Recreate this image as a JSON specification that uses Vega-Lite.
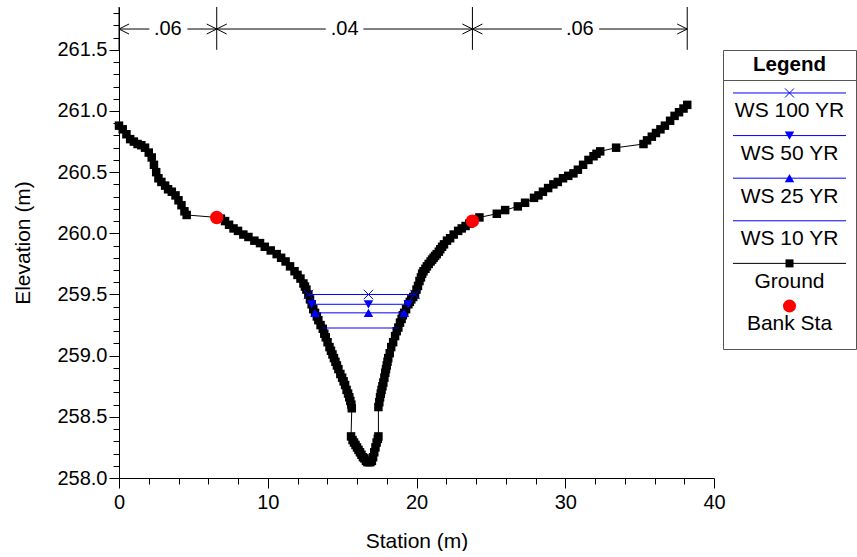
{
 "$schema": "https://vega.github.io/schema/vega-lite/v6.json",
 "padding": {"left": 12, "top": 6, "right": 0, "bottom": 0},
 "spacing": 9,
 "bounds": "flush",
 "config": {
  "font": "Liberation Sans",
  "view": {"stroke": null},
  "axis": {"grid": false, "domainColor": "#000", "tickColor": "#000", "labelColor": "#000", "titleColor": "#000", "labelFont": "Liberation Sans", "titleFont": "Liberation Sans", "labelFontSize": 20, "titleFontSize": 21, "titleFontWeight": "normal", "domainWidth": 1, "tickWidth": 1, "labelFlush": false},
  "text": {"font": "Liberation Sans", "color": "#000"}
 },
 "datasets": {
  "ground": [
   {"x":0,"e":260.88},{"x":0.25,"e":260.85},{"x":0.5,"e":260.81},{"x":0.75,"e":260.77},{"x":1.0,"e":260.75},{"x":1.25,"e":260.73},{"x":1.5,"e":260.72},{"x":1.75,"e":260.7},{"x":2.0,"e":260.66},{"x":2.2,"e":260.62},{"x":2.35,"e":260.56},{"x":2.5,"e":260.5},{"x":2.65,"e":260.45},{"x":2.85,"e":260.42},{"x":3.1,"e":260.39},{"x":3.3,"e":260.36},{"x":3.55,"e":260.34},{"x":3.8,"e":260.31},{"x":4.0,"e":260.27},{"x":4.2,"e":260.23},{"x":4.4,"e":260.18},{"x":4.55,"e":260.15},
   {"x":6.57,"e":260.13},{"x":6.85,"e":260.12},{"x":7.13,"e":260.1},{"x":7.4,"e":260.07},{"x":7.7,"e":260.04},{"x":8.0,"e":260.02},{"x":8.36,"e":259.99},{"x":8.7,"e":259.97},{"x":9.1,"e":259.94},{"x":9.48,"e":259.92},{"x":9.8,"e":259.89},{"x":10.2,"e":259.86},{"x":10.6,"e":259.83},{"x":10.9,"e":259.8},{"x":11.2,"e":259.77},{"x":11.5,"e":259.73},{"x":11.8,"e":259.69},{"x":12.0,"e":259.66},{"x":12.2,"e":259.63},{"x":12.4,"e":259.59},{"x":12.5,"e":259.565},{"x":12.6,"e":259.54},
   {"x":12.73,"e":259.5},{"x":12.84,"e":259.46},{"x":12.95,"e":259.42},{"x":13.06,"e":259.38},{"x":13.18,"e":259.35},{"x":13.3,"e":259.32},{"x":13.4,"e":259.29},{"x":13.55,"e":259.25},{"x":13.7,"e":259.22},{"x":13.8,"e":259.18},{"x":13.9,"e":259.15},{"x":14.02,"e":259.11},{"x":14.15,"e":259.07},{"x":14.25,"e":259.04},{"x":14.35,"e":259.01},{"x":14.45,"e":258.98},{"x":14.55,"e":258.95},{"x":14.65,"e":258.92},{"x":14.75,"e":258.89},{"x":14.88,"e":258.85},{"x":15.0,"e":258.82},{"x":15.1,"e":258.79},{"x":15.2,"e":258.76},{"x":15.3,"e":258.72},{"x":15.4,"e":258.69},{"x":15.48,"e":258.66},{"x":15.55,"e":258.63},{"x":15.62,"e":258.6},{"x":15.65,"e":258.57},
   {"x":15.6,"e":258.34},{"x":15.7,"e":258.31},{"x":15.8,"e":258.29},{"x":15.9,"e":258.27},{"x":16.0,"e":258.25},{"x":16.1,"e":258.23},{"x":16.2,"e":258.21},{"x":16.3,"e":258.19},{"x":16.4,"e":258.17},{"x":16.5,"e":258.16},{"x":16.6,"e":258.14},{"x":16.7,"e":258.13},{"x":16.8,"e":258.13},{"x":16.9,"e":258.13},{"x":17.0,"e":258.14},{"x":17.08,"e":258.17},{"x":17.16,"e":258.21},{"x":17.24,"e":258.25},{"x":17.32,"e":258.29},{"x":17.4,"e":258.32},{"x":17.44,"e":258.34},
   {"x":17.44,"e":258.58},{"x":17.5,"e":258.62},{"x":17.55,"e":258.66},{"x":17.6,"e":258.69},{"x":17.65,"e":258.72},{"x":17.71,"e":258.75},{"x":17.77,"e":258.78},{"x":17.84,"e":258.82},{"x":17.9,"e":258.86},{"x":17.95,"e":258.89},{"x":18.0,"e":258.92},{"x":18.05,"e":258.95},{"x":18.1,"e":258.98},{"x":18.2,"e":259.02},{"x":18.3,"e":259.07},{"x":18.43,"e":259.11},{"x":18.56,"e":259.16},{"x":18.67,"e":259.2},{"x":18.78,"e":259.23},{"x":18.89,"e":259.27},{"x":19.0,"e":259.3},{"x":19.08,"e":259.33},{"x":19.17,"e":259.35},{"x":19.3,"e":259.38},{"x":19.45,"e":259.42},{"x":19.55,"e":259.44},{"x":19.65,"e":259.46},{"x":19.78,"e":259.48},{"x":19.9,"e":259.5},{"x":20.0,"e":259.54},{"x":20.1,"e":259.57},{"x":20.2,"e":259.61},{"x":20.3,"e":259.64},{"x":20.38,"e":259.67},{"x":20.47,"e":259.69},{"x":20.6,"e":259.71},{"x":20.7,"e":259.73},{"x":20.82,"e":259.75},{"x":20.95,"e":259.77},{"x":21.05,"e":259.785},{"x":21.15,"e":259.8},{"x":21.25,"e":259.815},{"x":21.36,"e":259.83},{"x":21.5,"e":259.85},{"x":21.6,"e":259.87},{"x":21.72,"e":259.89},{"x":21.85,"e":259.91},{"x":22.05,"e":259.94},{"x":22.26,"e":259.96},{"x":22.5,"e":259.99},{"x":22.8,"e":260.02},{"x":23.04,"e":260.04},{"x":23.3,"e":260.06},{"x":23.55,"e":260.08},{"x":23.76,"e":260.1},
   {"x":24.23,"e":260.13},{"x":25.4,"e":260.16},{"x":25.96,"e":260.19},{"x":26.81,"e":260.22},{"x":27.3,"e":260.25},{"x":27.9,"e":260.29},{"x":28.2,"e":260.31},{"x":28.5,"e":260.34},{"x":28.85,"e":260.37},{"x":29.2,"e":260.4},{"x":29.5,"e":260.42},{"x":29.85,"e":260.45},{"x":30.2,"e":260.47},{"x":30.55,"e":260.49},{"x":30.85,"e":260.52},{"x":31.2,"e":260.56},{"x":31.56,"e":260.6},{"x":31.9,"e":260.63},{"x":32.1,"e":260.65},{"x":32.35,"e":260.67},{"x":33.42,"e":260.7},{"x":35.26,"e":260.73},{"x":35.5,"e":260.76},{"x":35.82,"e":260.79},{"x":36.1,"e":260.82},{"x":36.4,"e":260.85},{"x":36.7,"e":260.88},{"x":37.05,"e":260.92},{"x":37.35,"e":260.96},{"x":37.65,"e":260.99},{"x":37.95,"e":261.02},{"x":38.2,"e":261.05}
  ],
  "ws": [
   {"ws":"WS 100 YR","x":12.73,"e":259.5},{"ws":"WS 100 YR","x":16.77,"e":259.5},{"ws":"WS 100 YR","x":19.9,"e":259.5},
   {"ws":"WS 50 YR","x":12.95,"e":259.42},{"ws":"WS 50 YR","x":16.77,"e":259.42},{"ws":"WS 50 YR","x":19.45,"e":259.42},
   {"ws":"WS 25 YR","x":13.18,"e":259.35},{"ws":"WS 25 YR","x":16.77,"e":259.35},{"ws":"WS 25 YR","x":19.17,"e":259.35},
   {"ws":"WS 10 YR","x":13.7,"e":259.226},{"ws":"WS 10 YR","x":18.78,"e":259.226}
  ],
  "bank": [{"x":6.57,"e":260.13},{"x":23.76,"e":260.1}],
  "nb": [{"x":0},{"x":6.57},{"x":23.76},{"x":38.2}],
  "seg": [{"x1":0,"x2":2.04},{"x1":4.6,"x2":6.57},{"x1":6.57,"x2":13.9},{"x1":16.43,"x2":23.76},{"x1":23.76,"x2":29.77},{"x1":32.28,"x2":38.2}],
  "arrows": [{"x":0,"dir":"L"},{"x":6.57,"dir":"R"},{"x":6.57,"dir":"L"},{"x":23.76,"dir":"R"},{"x":23.76,"dir":"L"},{"x":38.2,"dir":"R"}],
  "ntext": [{"x":3.28,"n":".06"},{"x":15.17,"n":".04"},{"x":30.98,"n":".06"}],
  "legend": [{"label":"WS 100 YR"},{"label":"WS 50 YR"},{"label":"WS 25 YR"},{"label":"WS 10 YR"},{"label":"Ground"},{"label":"Bank Sta"}]
 },
 "hconcat": [
  {
   "width": 595,
   "height": 471,
   "layer": [
    {"data": {"name": "seg"}, "mark": {"type": "rule", "color": "#000", "strokeWidth": 1},
     "encoding": {"x": {"field": "x1", "type": "quantitative", "scale": {"domain": [0, 40], "nice": false}, "axis": null}, "x2": {"field": "x2"},
                  "y": {"datum": 261.67, "type": "quantitative", "scale": {"domain": [258, 261.85], "nice": false, "zero": false}, "axis": null}}},
    {"data": {"name": "nb"}, "mark": {"type": "rule", "color": "#000", "strokeWidth": 1},
     "encoding": {"x": {"field": "x", "type": "quantitative", "scale": {"domain": [0, 40], "nice": false}, "axis": null},
                  "y": {"datum": 261.5, "type": "quantitative", "scale": {"domain": [258, 261.85], "nice": false, "zero": false}, "axis": null}, "y2": {"datum": 261.85}}},
    {"data": {"name": "arrows"}, "transform": [{"filter": "datum.dir === 'L'"}], "mark": {"type": "point", "shape": "M2,-1L0,0L2,1", "filled": false, "stroke": "#000", "strokeWidth": 1, "size": 100, "opacity": 1},
     "encoding": {"x": {"field": "x", "type": "quantitative", "scale": {"domain": [0, 40], "nice": false}, "axis": null},
                  "y": {"datum": 261.67, "type": "quantitative", "scale": {"domain": [258, 261.85], "nice": false, "zero": false}, "axis": null}}},
    {"data": {"name": "arrows"}, "transform": [{"filter": "datum.dir === 'R'"}], "mark": {"type": "point", "shape": "M-2,-1L0,0L-2,1", "filled": false, "stroke": "#000", "strokeWidth": 1, "size": 100, "opacity": 1},
     "encoding": {"x": {"field": "x", "type": "quantitative", "scale": {"domain": [0, 40], "nice": false}, "axis": null},
                  "y": {"datum": 261.67, "type": "quantitative", "scale": {"domain": [258, 261.85], "nice": false, "zero": false}, "axis": null}}},
    {"data": {"name": "ntext"}, "mark": {"type": "text", "fontSize": 20, "baseline": "middle", "align": "center", "color": "#000"},
     "encoding": {"x": {"field": "x", "type": "quantitative", "scale": {"domain": [0, 40], "nice": false}, "axis": null},
                  "y": {"datum": 261.67, "type": "quantitative", "scale": {"domain": [258, 261.85], "nice": false, "zero": false}, "axis": null},
                  "text": {"field": "n"}}},
    {"data": {"name": "ground"}, "mark": {"type": "line", "color": "#000", "strokeWidth": 1},
     "encoding": {"x": {"field": "x", "type": "quantitative", "scale": {"domain": [0, 40], "nice": false},
                        "axis": {"values": [0, 10, 20, 30, 40], "tickSize": 10, "labelPadding": 4, "title": "Station (m)", "titlePadding": 18, "orient": "bottom"}},
                  "y": {"field": "e", "type": "quantitative", "scale": {"domain": [258, 261.85], "nice": false, "zero": false},
                        "axis": {"values": [258, 258.5, 259, 259.5, 260, 260.5, 261, 261.5], "format": ".1f", "tickSize": 10, "labelPadding": 2, "title": "Elevation (m)", "titlePadding": 23, "orient": "left"}},
                  "order": {"value": null}}},
    {"data": {"name": "ground"}, "mark": {"type": "square", "color": "#000", "size": 72, "opacity": 1},
     "encoding": {"x": {"field": "x", "type": "quantitative", "scale": {"domain": [0, 40], "nice": false},
                        "axis": {"values": [2, 4, 6, 8, 12, 14, 16, 18, 22, 24, 26, 28, 32, 34, 36, 38], "tickSize": 6, "labels": false, "domain": false, "title": null, "orient": "bottom"}},
                  "y": {"field": "e", "type": "quantitative", "scale": {"domain": [258, 261.85], "nice": false, "zero": false},
                        "axis": {"values": [258.1, 258.2, 258.3, 258.4, 258.6, 258.7, 258.8, 258.9, 259.1, 259.2, 259.3, 259.4, 259.6, 259.7, 259.8, 259.9, 260.1, 260.2, 260.3, 260.4, 260.6, 260.7, 260.8, 260.9, 261.1, 261.2, 261.3, 261.4, 261.6, 261.7, 261.8], "tickSize": 6, "labels": false, "domain": false, "title": null, "orient": "left"}}}},
    {"data": {"name": "ws"}, "mark": {"type": "line", "color": "#0000ff", "strokeWidth": 1},
     "encoding": {"x": {"field": "x", "type": "quantitative", "scale": {"domain": [0, 40], "nice": false}, "axis": null},
                  "y": {"field": "e", "type": "quantitative", "scale": {"domain": [258, 261.85], "nice": false, "zero": false}, "axis": null},
                  "detail": {"field": "ws"}}},
    {"data": {"name": "ws"}, "transform": [{"filter": "datum.ws === 'WS 100 YR'"}], "mark": {"type": "point", "shape": "M-1,-1L1,1M-1,1L1,-1", "filled": false, "stroke": "#0000ff", "strokeWidth": 1, "size": 90, "opacity": 1},
     "encoding": {"x": {"field": "x", "type": "quantitative", "scale": {"domain": [0, 40], "nice": false}, "axis": null},
                  "y": {"field": "e", "type": "quantitative", "scale": {"domain": [258, 261.85], "nice": false, "zero": false}, "axis": null}}},
    {"data": {"name": "ws"}, "transform": [{"filter": "datum.ws === 'WS 50 YR'"}], "mark": {"type": "point", "shape": "triangle-down", "filled": true, "color": "#0000ff", "size": 90, "opacity": 1},
     "encoding": {"x": {"field": "x", "type": "quantitative", "scale": {"domain": [0, 40], "nice": false}, "axis": null},
                  "y": {"field": "e", "type": "quantitative", "scale": {"domain": [258, 261.85], "nice": false, "zero": false}, "axis": null}}},
    {"data": {"name": "ws"}, "transform": [{"filter": "datum.ws === 'WS 25 YR'"}], "mark": {"type": "point", "shape": "triangle-up", "filled": true, "color": "#0000ff", "size": 90, "opacity": 1},
     "encoding": {"x": {"field": "x", "type": "quantitative", "scale": {"domain": [0, 40], "nice": false}, "axis": null},
                  "y": {"field": "e", "type": "quantitative", "scale": {"domain": [258, 261.85], "nice": false, "zero": false}, "axis": null}}},
    {"data": {"name": "bank"}, "mark": {"type": "circle", "color": "#ff0000", "size": 180, "opacity": 1},
     "encoding": {"x": {"field": "x", "type": "quantitative", "scale": {"domain": [0, 40], "nice": false}, "axis": null},
                  "y": {"field": "e", "type": "quantitative", "scale": {"domain": [258, 261.85], "nice": false, "zero": false}, "axis": null}}}
   ],
   "resolve": {"axis": {"x": "independent", "y": "independent"}}
  },
  {
   "spacing": 0,
   "bounds": "flush",
   "vconcat": [
    {"width": 133, "height": 43, "view": {"fill": "#ffffff", "stroke": null}, "data": {"values": [{"a": 1}]}, "mark": {"type": "point", "opacity": 0}, "encoding": {}},
    {"width": 133, "height": 30, "view": {"stroke": "#555555", "strokeWidth": 1}, "data": {"values": [{"t": "Legend"}]},
     "mark": {"type": "text", "fontSize": 20.5, "fontWeight": "bold", "baseline": "middle", "align": "center", "color": "#000"},
     "encoding": {"text": {"field": "t"}}},
    {"width": 133, "height": 269, "view": {"stroke": "#555555", "strokeWidth": 1}, "data": {"name": "legend"},
     "encoding": {"y": {"field": "label", "type": "nominal", "scale": {"type": "band", "domain": ["WS 100 YR", "WS 50 YR", "WS 25 YR", "WS 10 YR", "Ground", "Bank Sta"], "paddingInner": 0, "paddingOuter": 0.157, "align": 0.05}, "axis": null}},
     "layer": [
      {"transform": [{"filter": "datum.label !== 'Bank Sta' && datum.label !== 'Ground'"}], "mark": {"type": "rule", "color": "#0000ff", "strokeWidth": 1, "yOffset": -9},
       "encoding": {"x": {"datum": 0.075, "type": "quantitative", "scale": {"domain": [0, 1]}, "axis": null}, "x2": {"datum": 0.925}}},
      {"transform": [{"filter": "datum.label === 'Ground'"}], "mark": {"type": "rule", "color": "#000", "strokeWidth": 1, "yOffset": -9},
       "encoding": {"x": {"datum": 0.075, "type": "quantitative", "scale": {"domain": [0, 1]}, "axis": null}, "x2": {"datum": 0.925}}},
      {"transform": [{"filter": "datum.label === 'WS 100 YR'"}], "mark": {"type": "point", "shape": "M-1,-1L1,1M-1,1L1,-1", "filled": false, "stroke": "#0000ff", "strokeWidth": 1, "size": 81, "opacity": 1, "yOffset": -9},
       "encoding": {"x": {"datum": 0.5, "type": "quantitative", "scale": {"domain": [0, 1]}, "axis": null}}},
      {"transform": [{"filter": "datum.label === 'WS 50 YR'"}], "mark": {"type": "point", "shape": "triangle-down", "filled": true, "color": "#0000ff", "size": 90, "opacity": 1, "yOffset": -9},
       "encoding": {"x": {"datum": 0.5, "type": "quantitative", "scale": {"domain": [0, 1]}, "axis": null}}},
      {"transform": [{"filter": "datum.label === 'WS 25 YR'"}], "mark": {"type": "point", "shape": "triangle-up", "filled": true, "color": "#0000ff", "size": 90, "opacity": 1, "yOffset": -9},
       "encoding": {"x": {"datum": 0.5, "type": "quantitative", "scale": {"domain": [0, 1]}, "axis": null}}},
      {"transform": [{"filter": "datum.label === 'Ground'"}], "mark": {"type": "square", "color": "#000", "size": 64, "opacity": 1, "yOffset": -9},
       "encoding": {"x": {"datum": 0.5, "type": "quantitative", "scale": {"domain": [0, 1]}, "axis": null}}},
      {"transform": [{"filter": "datum.label === 'Bank Sta'"}], "mark": {"type": "circle", "color": "#ff0000", "size": 170, "opacity": 1, "yOffset": -9},
       "encoding": {"x": {"datum": 0.5, "type": "quantitative", "scale": {"domain": [0, 1]}, "axis": null}}},
      {"mark": {"type": "text", "fontSize": 21, "baseline": "middle", "align": "center", "color": "#000", "yOffset": 9.5},
       "encoding": {"x": {"datum": 0.5, "type": "quantitative", "scale": {"domain": [0, 1]}, "axis": null}, "text": {"field": "label"}}}
     ]
    }
   ]
  }
 ]
}
